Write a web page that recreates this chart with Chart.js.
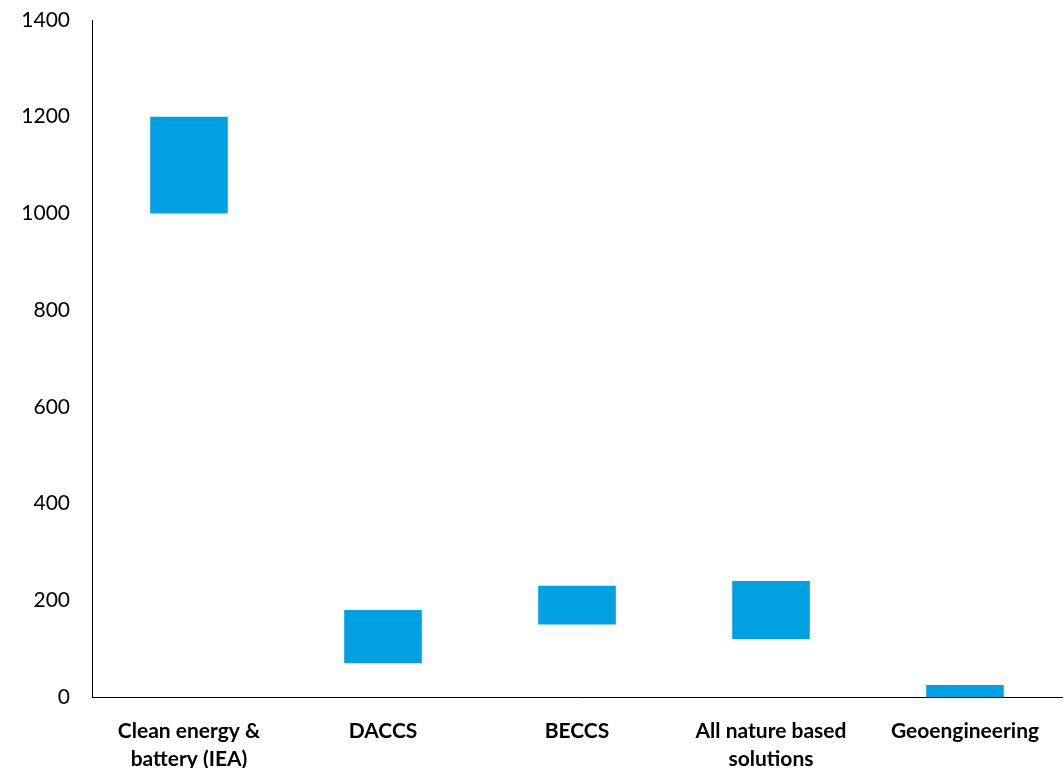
<!DOCTYPE html>
<html>
<head>
<meta charset="utf-8">
<script src="https://cdn.jsdelivr.net/npm/chart.js@4/dist/chart.umd.min.js"></script>
<style>
  html, body { margin: 0; padding: 0; background: #fff; }
  #wrap { width: 1064px; height: 768px; }
</style>
</head>
<body>
<div id="wrap"><canvas id="c" width="1064" height="768"></canvas></div>
<script>
// Categories (multi-line labels as arrays)
const categories = [
  ['Clean energy &', 'battery (IEA)'],
  'DACCS',
  'BECCS',
  ['All nature based', 'solutions'],
  'Geoengineering'
];
// Range of each bar: low and high ends
const lowValues  = [1000, 70, 150, 120, 0];
const highValues = [1200, 180, 230, 240, 25];
// Y axis tick values
const yTicks = [0, 200, 400, 600, 800, 1000, 1200, 1400];

const ranges = lowValues.map((lo, i) => [lo, highValues[i]]);

new Chart(document.getElementById('c'), {
  type: 'bar',
  data: {
    labels: categories,
    datasets: [{
      data: ranges,
      backgroundColor: '#00A0E3',
      borderWidth: 0,
      categoryPercentage: 1,
      barPercentage: 0.4
    }]
  },
  options: {
    responsive: false,
    animation: false,
    layout: { padding: { top: 20, right: 2, left: 0, bottom: 0 } },
    plugins: { legend: { display: false }, tooltip: { enabled: false } },
    scales: {
      x: {
        grid: { display: false },
        border: { display: true, color: '#000', width: 1 },
        ticks: {
          color: '#000',
          padding: 13,
          maxRotation: 0,
          autoSkip: false,
          font: { family: 'Lato', size: 21, weight: 'bold', lineHeight: 1.3 }
        },
        afterFit(scale) {
          scale.height = 71;
          scale.paddingLeft = 0;
          scale.paddingRight = 0;
        }
      },
      y: {
        min: 0,
        max: 1400,
        afterBuildTicks(scale) { scale.ticks = yTicks.map(v => ({ value: v })); },
        grid: { display: false },
        border: { display: true, color: '#000', width: 1 },
        ticks: {
          color: '#000',
          padding: 14,
          font: { family: 'Lato', size: 21 },
          callback: (v) => String(v)
        },
        afterFit(scale) {
          scale.width = 92;
          scale.paddingTop = 0;
          scale.paddingBottom = 0;
        }
      }
    }
  }
});
</script>
</body>
</html>
